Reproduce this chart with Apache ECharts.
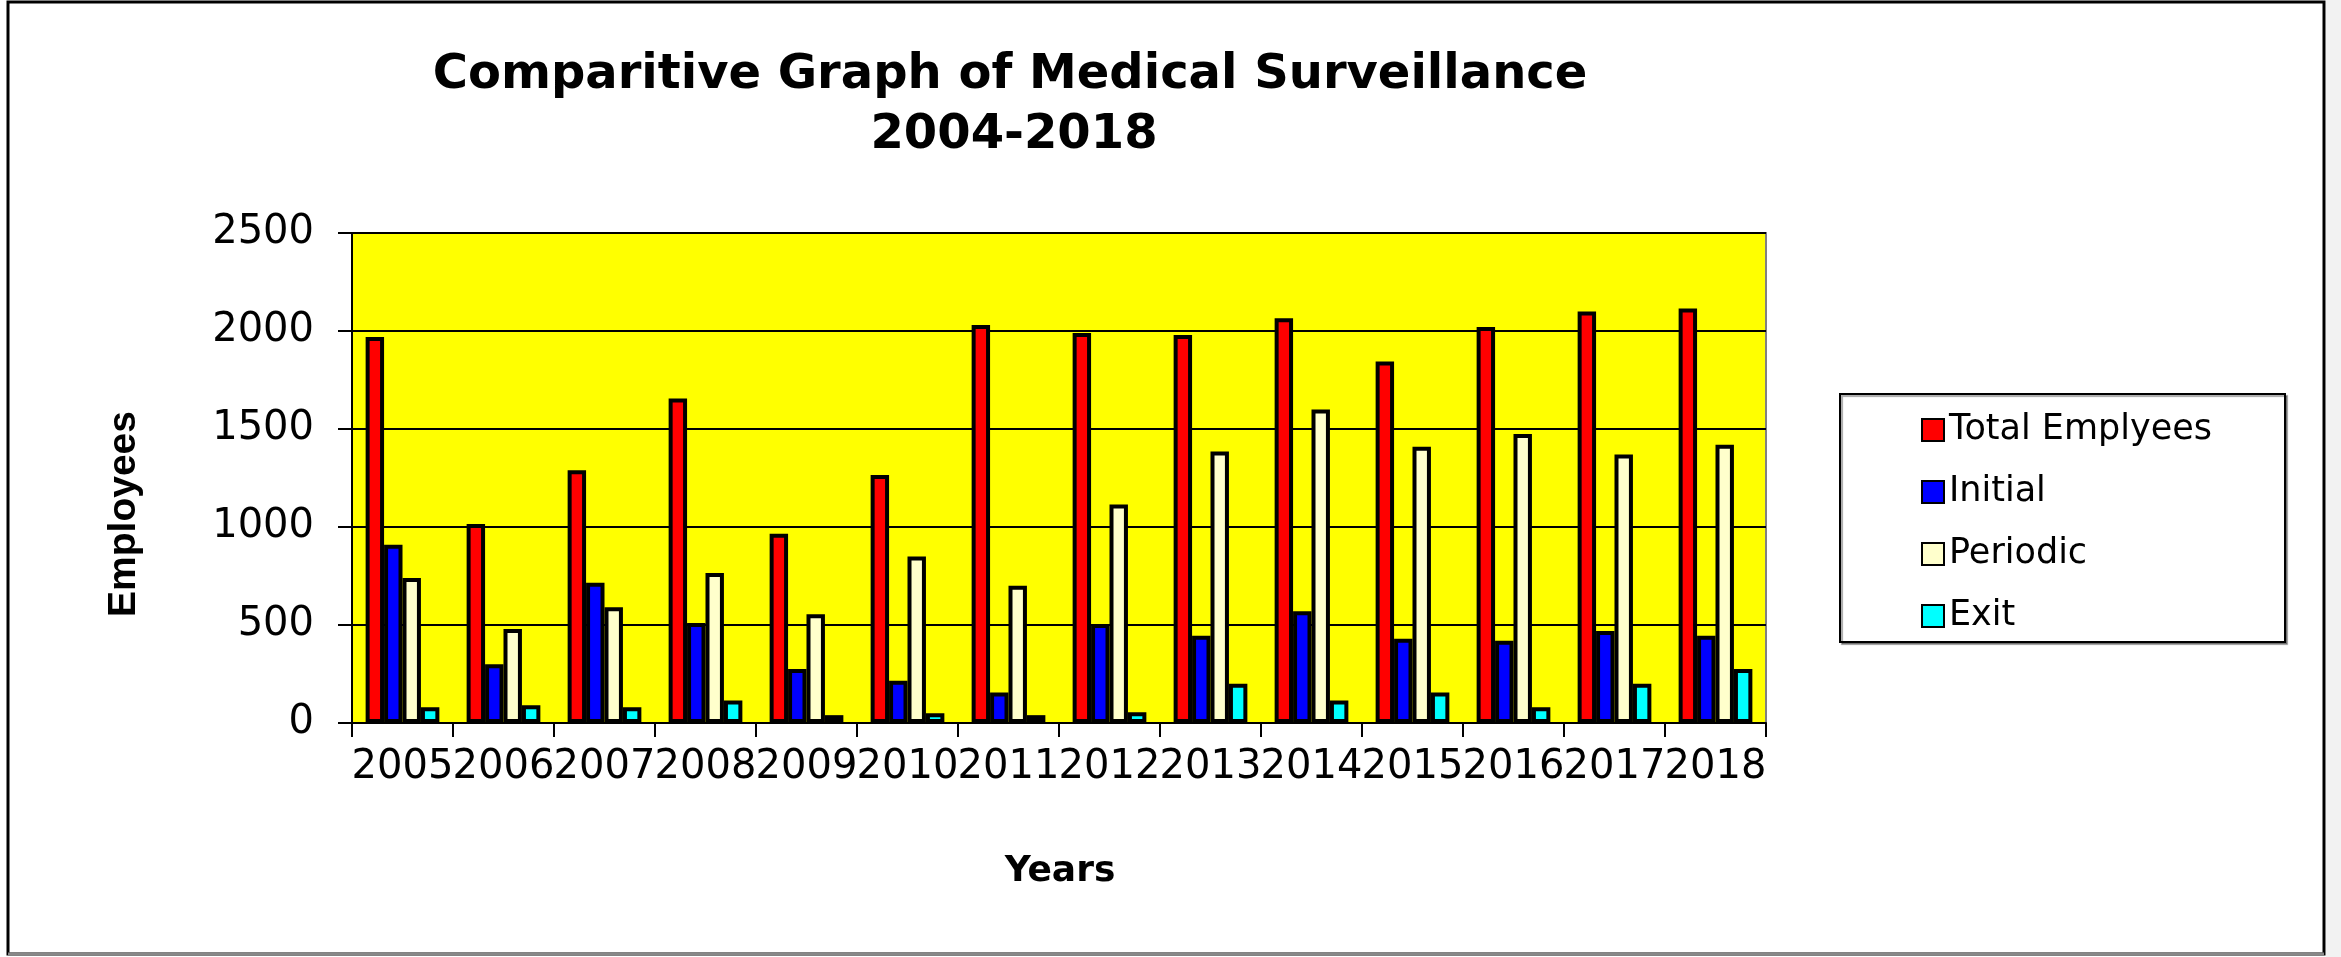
<!DOCTYPE html>
<html>
<head>
<meta charset="utf-8">
<script src="https://cdn.jsdelivr.net/npm/echarts@6/dist/echarts.min.js"></script>
<style>
html,body{margin:0;padding:0;background:#fff;}
#chart{width:2341px;height:957px;}
</style>
</head>
<body>
<div id="chart"></div>
<script>
const categories = ['2005','2006','2007','2008','2009','2010','2011','2012','2013','2014','2015','2016','2017','2018'];
const totalEmployees = [1970,1015,1290,1655,965,1265,2030,1990,1980,2065,1845,2020,2100,2115];
const initialVals = [910,300,715,510,275,215,155,505,445,570,430,420,470,445];
const periodicVals = [740,480,590,765,555,850,700,1115,1385,1600,1410,1475,1370,1420];
const exitVals = [80,90,80,115,40,50,40,55,200,115,155,80,200,275];
const seriesNames = ['Total Emplyees','Initial','Periodic','Exit'];
const seriesColors = ['#FF0000','#0000FF','#FFFFCC','#00FFFF'];
const titleLines = ['Comparitive Graph of Medical Surveillance','2004-2018'];

const chart = echarts.init(document.getElementById('chart'));
const dataSets = [totalEmployees, initialVals, periodicVals, exitVals];

const option = {
  backgroundColor: '#ffffff',
  animation: false,
  grid: {
    left: 352, right: 575, top: 233, bottom: 234,
    show: true, backgroundColor: '#FFFF00', borderColor: '#808080', borderWidth: 2
  },
  legend: {
    orient: 'vertical',
    left: 1916, top: 405,
    icon: 'rect',
    itemWidth: 22, itemHeight: 22, itemGap: 22,
    textStyle: { fontFamily: 'DejaVu Sans', fontSize: 35, lineHeight: 40, color: '#000' },
    data: seriesNames
  },
  xAxis: {
    type: 'category',
    data: categories,
    boundaryGap: true,
    axisLine: { show: true, lineStyle: { color: '#000', width: 2 } },
    axisTick: { show: true, alignWithLabel: false, length: 14, lineStyle: { color: '#000', width: 2 } },
    axisLabel: { margin: 25, fontFamily: 'DejaVu Sans', fontSize: 40, color: '#000', interval: 0 },
    splitLine: { show: false }
  },
  yAxis: {
    type: 'value',
    min: 0, max: 2500, interval: 500,
    axisLine: { show: true, lineStyle: { color: '#000', width: 2 } },
    axisTick: { show: true, length: 14, lineStyle: { color: '#000', width: 2 } },
    axisLabel: { margin: 38, fontFamily: 'DejaVu Sans', fontSize: 40, color: '#000',
      formatter: function (v) { return String(v); } },
    splitLine: { show: true, lineStyle: { color: '#000', width: 2 } }
  },
  series: seriesNames.map((name, i) => ({
    name: name,
    type: 'bar',
    data: dataSets[i],
    barGap: '0%',
    barCategoryGap: '27%',
    itemStyle: { color: seriesColors[i], borderColor: '#000', borderWidth: 4 }
  })),
  graphic: [
    { type: 'rect', z: -10, shape: { x: 8, y: 2, width: 2316, height: 952 },
      style: { fill: '#fff', stroke: '#000', lineWidth: 3 } },
    { type: 'line', z: -9, shape: { x1: 8, y1: 954, x2: 2324, y2: 954 }, style: { stroke: '#888', lineWidth: 3 } },
    { type: 'rect', z: -10, shape: { x: 2326, y: 0, width: 15, height: 957 }, style: { fill: '#f2f2f2' } },
    { type: 'rect', z: -5, shape: { x: 1840, y: 394, width: 445, height: 248 },
      style: { fill: '#fff', stroke: '#000', lineWidth: 2, shadowColor: 'rgba(0,0,0,0.35)', shadowOffsetX: 2, shadowOffsetY: 2, shadowBlur: 1 } },
    { type: 'text', x: 1010, y: 76, style: { text: titleLines[0], textAlign: 'center', textVerticalAlign: 'middle',
      font: 'bold 48px "DejaVu Sans"', fill: '#000' } },
    { type: 'text', x: 1014, y: 136, style: { text: titleLines[1], textAlign: 'center', textVerticalAlign: 'middle',
      font: 'bold 48px "DejaVu Sans"', fill: '#000' } },
    { type: 'text', x: 1060, y: 872, style: { text: 'Years', textAlign: 'center', textVerticalAlign: 'middle',
      font: 'bold 36px "DejaVu Sans"', fill: '#000' } },
    { type: 'text', x: 124, y: 514, rotation: Math.PI / 2, style: { text: 'Employees', textAlign: 'center', textVerticalAlign: 'middle',
      font: 'bold 39px "Liberation Sans"', fill: '#000' } }
  ]
};
chart.setOption(option);
</script>
</body>
</html>
